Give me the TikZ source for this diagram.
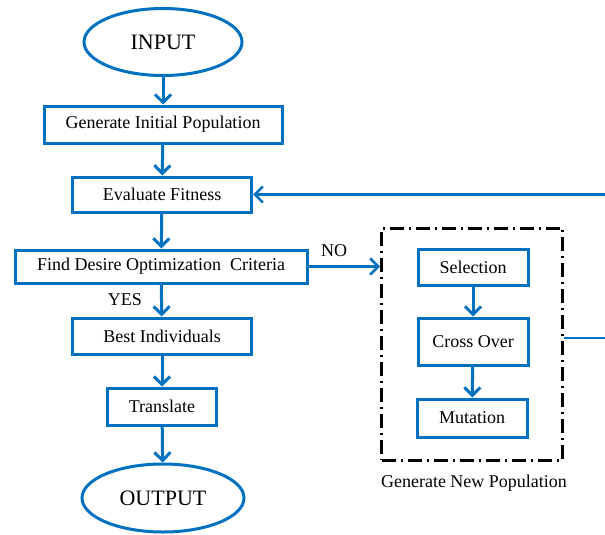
\documentclass[tikz,border=0pt]{standalone}
\usepackage{fontspec}
\setmainfont{Liberation Serif}
\usetikzlibrary{arrows.meta,shapes.geometric}
\definecolor{fblue}{RGB}{0,112,192}
\begin{document}
\begin{tikzpicture}[x=1pt,y=-1pt,
  flowbox/.style={draw=fblue,line width=3pt,fill=white,inner sep=0pt,font=\fontsize{18}{20}\selectfont},
  term/.style={ellipse,draw=fblue,line width=3pt,inner sep=0pt,font=\fontsize{22}{24}\selectfont},
  flow/.style={draw=fblue,line width=3pt,-{Straight Barb[length=8pt,width=16pt,line width=3pt]}},
  thinflow/.style={draw=fblue,line width=2.5pt,-{Straight Barb[length=8pt,width=16pt,line width=2.5pt]}},
  lbl/.style={font=\fontsize{18}{20}\selectfont,inner sep=0pt}]
\useasboundingbox (0,0) rectangle (605,535);
\node[term,minimum width=158pt,minimum height=67pt] (in) at (163,42) {INPUT};
\node[flowbox,minimum width=238pt,minimum height=37pt] (gen) at (163,124.5) {Generate Initial Population};
\node[flowbox,minimum width=179pt,minimum height=35pt] (eval) at (162,194.5) {Evaluate Fitness};
\node[flowbox,minimum width=292pt,minimum height=33pt] (find) at (161,266.5) {Find Desire Optimization\ \ Criteria};
\node[flowbox,minimum width=179pt,minimum height=36pt] (best) at (162,336) {Best Individuals};
\node[flowbox,minimum width=109pt,minimum height=37pt] (trans) at (162,406.5) {Translate};
\node[term,minimum width=162pt,minimum height=68pt] (out) at (163,498) {OUTPUT};
\node[lbl] (yes) at (125,300) {YES};
\node[lbl] (no) at (334,251) {NO};
\node[draw=black,line width=3pt,dash pattern=on 14pt off 5pt on 2pt off 5pt,minimum width=181pt,minimum height=232pt,inner sep=0pt] (grp) at (472,344) {};
\node[flowbox,minimum width=110pt,minimum height=36pt] (sel) at (473,267) {Selection};
\node[flowbox,minimum width=110pt,minimum height=47pt] (cross) at (473,341.5) {Cross Over};
\node[flowbox,minimum width=110pt,minimum height=38pt] (mut) at (472,418) {Mutation};
\node[lbl] (gnp) at (474,483) {Generate New Population};
\coordinate (r1) at (605,338);
\coordinate (r2) at (605,194.5);
\draw[flow] (in) -- (gen);
\draw[flow] (gen) -- (eval);
\draw[flow] (eval) -- (find);
\draw[flow] (find) -- (best);
\draw[flow] (best) -- (trans);
\draw[flow] (trans) -- (out);
\draw[flow] (sel) -- (cross);
\draw[flow] (cross) -- (mut);
\draw[thinflow] (find.east) -- (find.east -| grp.west);
\draw[draw=fblue,line width=2.5pt] (grp.east |- r1) -- (r1);
\draw[thinflow] (r2) -- (eval.east);
\end{tikzpicture}
\end{document}
